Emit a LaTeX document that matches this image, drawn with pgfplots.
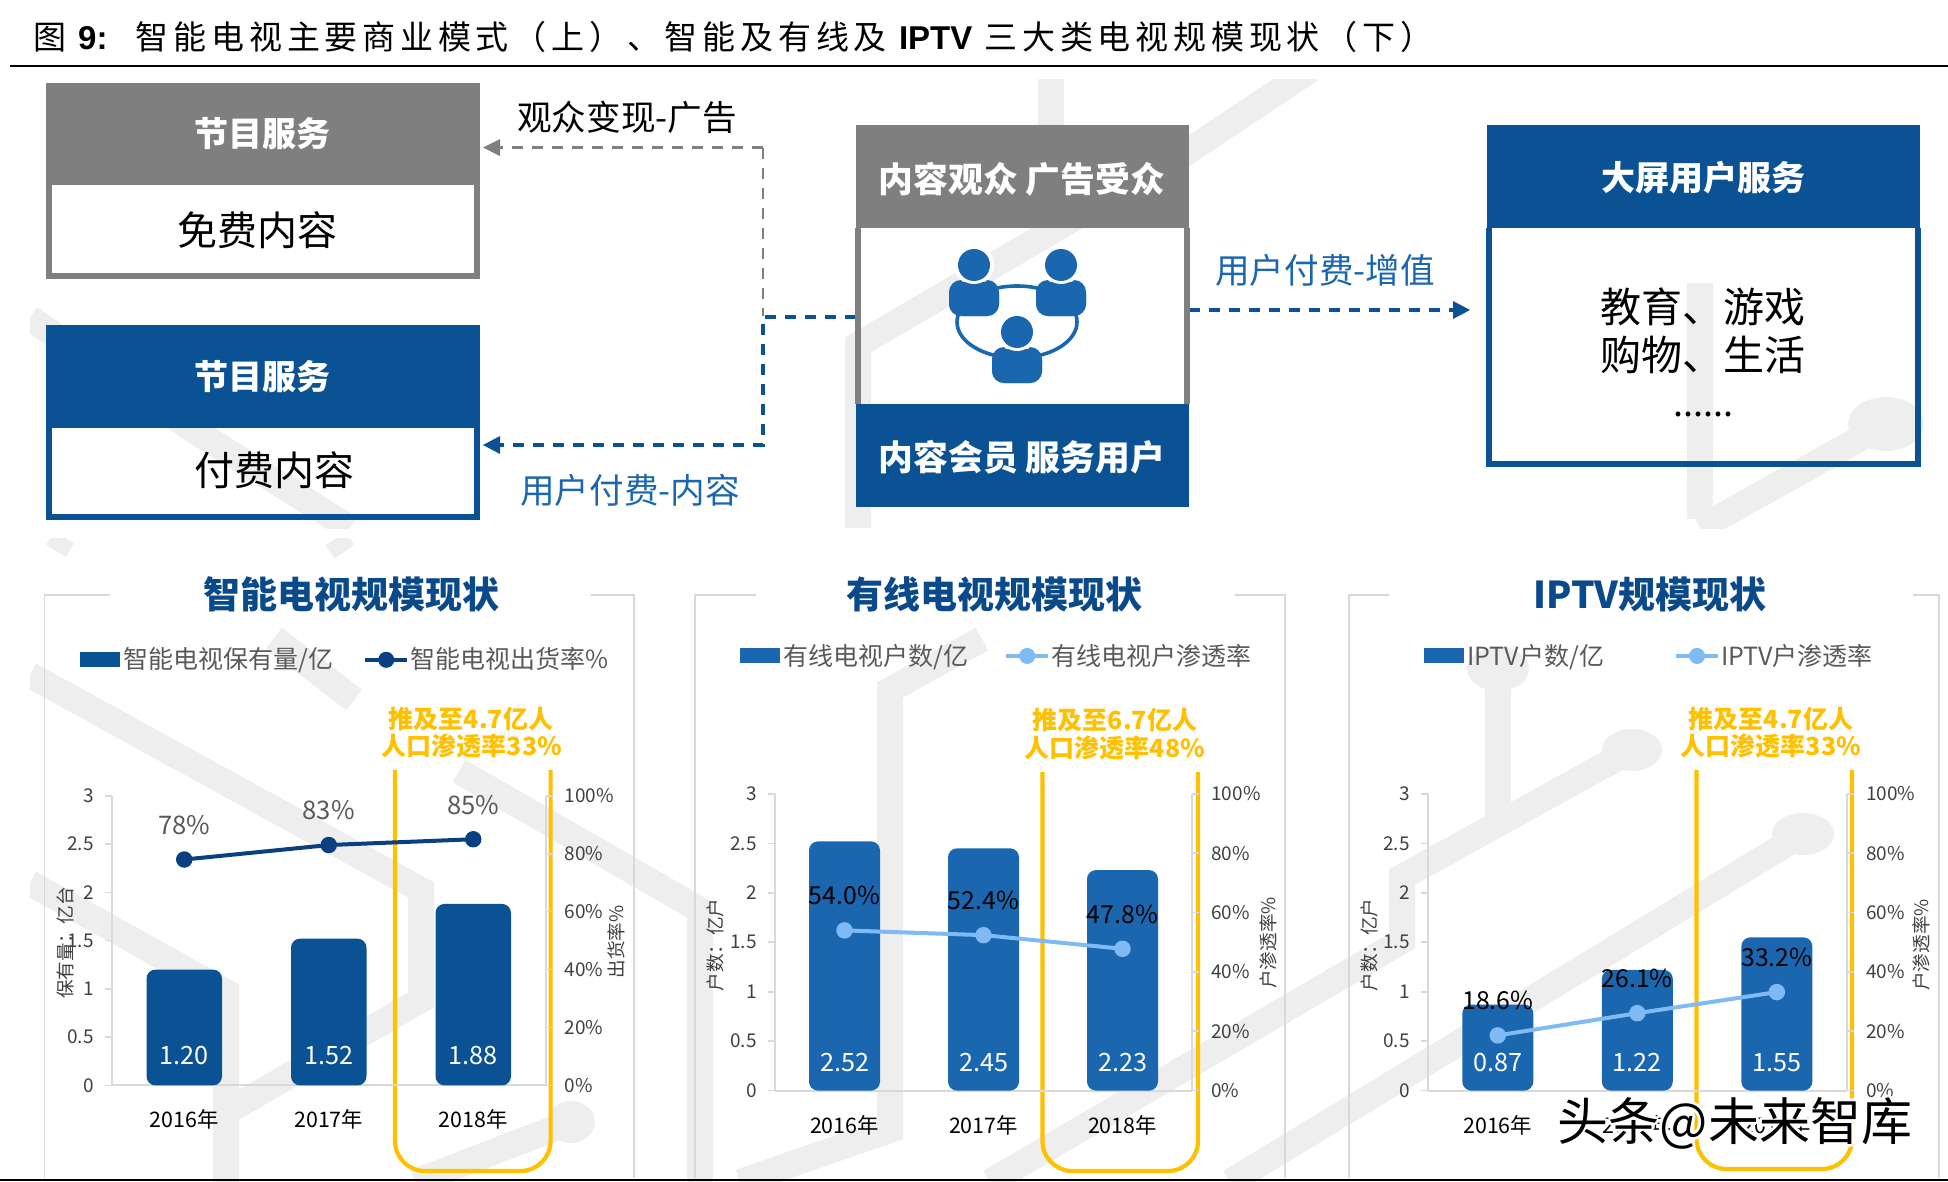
\documentclass[border=0pt]{standalone}
\usepackage{pgfplots}
\pgfplotsset{compat=1.18}
\usepackage{pgfplotstable}
\usepackage{fontspec}
\usetikzlibrary{arrows.meta}
\setmainfont{Noto Sans CJK SC}
\newfontfamily\cjkt[LetterSpace=14.5]{Noto Sans CJK SC}
\newfontfamily\latb[LetterSpace=0]{Liberation Sans}
\newcommand\fs[1]{\fontsize{#1}{#1}\selectfont}
\definecolor{dk}{HTML}{0A5294}
\definecolor{md}{HTML}{1A67B0}
\definecolor{nv}{HTML}{0A3F80}
\definecolor{lb}{HTML}{7FBAF5}
\definecolor{gr}{HTML}{7F7F7F}
\definecolor{wm}{HTML}{EEEEEE}
\definecolor{ax}{HTML}{D9D9D9}
\definecolor{yl}{HTML}{FFC000}
\definecolor{ti}{HTML}{0B4A8A}
\definecolor{tk}{HTML}{404040}
\definecolor{lg}{HTML}{595959}

\pgfplotstableread{
x v
0 1.20
1 1.52
2 1.88
}\sbar
\pgfplotstableread{
x v
0 78
1 83
2 85
}\sline
\pgfplotstableread{
x v
0 2.52
1 2.45
2 2.23
}\cbar
\pgfplotstableread{
x v
0 54.0
1 52.4
2 47.8
}\cline
\pgfplotstableread{
x v
0 0.87
1 1.22
2 1.55
}\ibar
\pgfplotstableread{
x v
0 18.6
1 26.1
2 33.2
}\iline

\pgfplotsset{
  base/.style={scale only axis, anchor=south west, xmin=-0.5, xmax=2.5, clip=false,
    axis line style={draw=ax, line width=1pt},
    /pgf/number format/assume math mode=true},
  leftax/.style={base, ymin=0, ymax=3, axis y line*=left, axis x line*=bottom,
    ytick={0,0.5,1,1.5,2,2.5,3}, yticklabels={0,0.5,1,1.5,2,2.5,3},
    xtick={0,1,2}, xticklabels={2016年,2017年,2018年},
    x tick style={draw=none},
    y tick style={draw=ax, line width=0.8pt},
    tick align=outside, major tick length=3.5pt,
    yticklabel style={font=\fs{9.5}, text=tk, inner sep=0pt, xshift=-5.5pt},
    xticklabel style={font=\fs{10.7}, text=black, inner sep=0pt, yshift=-8.5pt}},
  rightax/.style={base, ymin=0, ymax=100, axis y line*=right, axis x line=none,
    ytick={0,20,40,60,80,100}, yticklabels={0\%,20\%,40\%,60\%,80\%,100\%},
    y tick style={draw=ax, line width=0.8pt},
    tick align=outside, major tick length=3.5pt,
    yticklabel style={font=\fs{9.5}, text=tk, inner sep=0pt, xshift=6pt, anchor=west},
    legend columns=4, legend cell align=left,
    legend style={draw=none, fill=none, anchor=west, inner sep=0pt, outer sep=0pt,
      font=\fs{12.5},
      nodes={inner sep=0pt, outer sep=0pt, text=lg},
      /tikz/every even column/.append style={column sep=15pt}}},
  barkey/.style={legend image code/.code={\fill[##1, draw=none] (0pt,-3.75pt) rectangle (20pt,3.75pt); \path (21.5pt,0pt);}},
  linekey/.style={legend image code/.code={\draw[##1, mark=none] (0pt,0pt) -- (21pt,0pt);
     \fill[##1] (10.5pt,0pt) circle[radius=3pt]; \path (21.5pt,0pt);}},
  thebar/.style={ybar, bar shift=0pt, draw=none, rounded corners=4.5pt},
  vallabel/.style={draw=none, mark=none, point meta=explicit symbolic, nodes near coords,
    every node near coord/.append style={font=\fs{12.6}, text=white, anchor=center, inner sep=0pt}},
  linelabel/.style={point meta=y, mark=*, mark size=3.1pt, line width=2pt,
    nodes near coords={\pgfmathprintnumber[fixed,fixed zerofill,precision=#1]{\pgfplotspointmeta}\%},
    every node near coord/.append style={anchor=center, inner sep=0pt, yshift=17.3pt}},
}

\begin{document}
\begin{tikzpicture}[x=0.5pt,y=-0.5pt,
  t/.style={inner sep=0pt, outer sep=0pt, anchor=center},
  dashg/.style={draw=gr, line width=1.4pt, dash pattern=on 5.5pt off 4.5pt},
  dashb/.style={draw=dk, line width=1.7pt, dash pattern=on 5.5pt off 4.5pt}]
\path[use as bounding box] (0,0) rectangle (1948,1182);

% background traces, upper part
\begin{scope}
\clip (30,80) rectangle (1948,528);
\draw[wm, line width=13pt] (1051,70) -- (1051,140);
\draw[wm, line width=13pt] (1310,70) -- (1187,152) -- (858,345) -- (858,528);
\draw[wm, line width=13pt] (30,318) -- (190,428) -- (350,528);
\draw[wm, line width=13pt] (1700,283) -- (1700,519);
\draw[wm, line width=13pt] (1700,528) -- (1886,424);
\fill[wm] (1886,424) ellipse (38 and 27);
\end{scope}
% background traces, lower part
\begin{scope}
\clip (30,538) rectangle (1948,1182);
\draw[wm, line width=13pt] (30,675) -- (421,890) -- (421,1000) -- (226,1112) -- (226,1182);
\draw[wm, line width=13pt] (30,883) -- (226,992) -- (226,1112);
\draw[wm, line width=13pt] (274,638) -- (354,700);
\draw[wm, line width=13pt] (459,771) -- (700,910) -- (700,1182);
\draw[wm, line width=13pt] (982,639) -- (890,690) -- (890,1130) -- (740,1182);
\draw[wm, line width=13pt] (1632,750) -- (1402,877) -- (1402,941) -- (990,1182);
\draw[wm, line width=13pt] (1803,834) -- (1230,1182);
\draw[wm, line width=13pt] (1498,671) -- (1498,818);
\draw[wm, line width=13pt] (571,1122) -- (415,1182);
\fill[wm] (571,1122) ellipse (24 and 21);
\fill[wm] (1498,669) ellipse (31 and 22);
\fill[wm] (1632,750) ellipse (30 and 21);
\fill[wm] (1803,834) ellipse (31 and 21);
\draw[wm, line width=8pt] (50,538) -- (70,550);
\draw[wm, line width=8pt] (330,552) -- (350,538);
\end{scope}

% caption
\node[t, anchor=west] at (33,37) {\cjkt\fs{16.5}图 {\latb\bfseries 9:} \ 智能电视主要商业模式（上）、智能及有线及 {\latb\bfseries IPTV} 三大类电视规模现状（下）};
\draw[black, line width=1pt] (10,66.5) -- (1948,66.5);
\draw[black, line width=1.2pt] (0,1180) -- (1948,1180);

% diagram: left boxes
\fill[white] (46,185) rectangle (480,279);
\fill[gr] (46,83) rectangle (480,185.5);
\draw[gr, line width=3pt] (49,185) -- (49,276) -- (477,276) -- (477,185);
\node[t, text=white] at (262,134) {\fs{17}\bfseries 节目服务};
\node[t] at (257,230) {\fs{20}免费内容};
\fill[dk] (46,325) rectangle (480,428);
\draw[dk, line width=3pt] (49,428) -- (49,517) -- (477,517) -- (477,428);
\node[t, text=white] at (262,377) {\fs{17}\bfseries 节目服务};
\node[t] at (274,470) {\fs{20}付费内容};

% diagram: arrows
\draw[dashg] (763,147.6) -- (490,147.6);
\fill[gr] (483,147.6) -- (500,139) -- (500,156) -- cycle;
\draw[dashg] (763,147.6) -- (763,316);
\draw[dashb] (856,317) -- (763,317) -- (763,445) -- (490,445);
\fill[dk] (483,445) -- (500,436) -- (500,454) -- cycle;
\draw[dashb] (1189,310) -- (1460,310);
\fill[dk] (1470,310) -- (1453,301) -- (1453,319) -- cycle;
\node[t] at (627,117) {\fs{17.3}观众变现-广告};
\node[t, text=md] at (630,490) {\fs{17.3}用户付费-内容};
\node[t, text=md] at (1325,270) {\fs{17.3}用户付费-增值};

% diagram: centre box
\fill[gr] (856,125) rectangle (1189,228);
\draw[gr, line width=3pt] (858,228) -- (858,404);
\draw[gr, line width=3pt] (1187,228) -- (1187,404);
\fill[dk] (856,404) rectangle (1189,507);
\node[t, text=white] at (1022,179) {\fs{17.4}\bfseries 内容观众 广告受众};
\node[t, text=white] at (1022,457) {\fs{17.4}\bfseries 内容会员 服务用户};
\draw[md, line width=1.8pt] (1017,322) ellipse (60 and 36);
\foreach \px/\py in {974/265, 1061/265, 1017/332} {
  \fill[md, rounded corners=6pt] (\px-25,\py+51) rectangle (\px+25,\py+15);
  \fill[white] (\px,\py) circle (20);
  \fill[md, rounded corners=6pt] (\px-25,\py+51) rectangle (\px+25,\py+17);
  \fill[white] (\px,\py) circle (19);
  \fill[md] (\px,\py) circle (16);
}

% diagram: right box
\fill[dk] (1487,125) rectangle (1920,228);
\draw[dk, line width=3pt] (1489,228) -- (1489,464) -- (1918,464) -- (1918,228);
\node[t, text=white] at (1703,178) {\fs{17}\bfseries 大屏用户服务};
\node[t] at (1703,307) {\fs{20.5}教育、游戏};
\node[t] at (1703,355) {\fs{20.5}购物、生活};
\node[t] at (1703,414) {\fs{18}......};

% panels
\draw[ax, line width=0.8pt] (110,595) -- (44.5,595) -- (44.5,1178);
\draw[ax, line width=0.8pt] (591,595) -- (634,595) -- (634,1178);
\draw[ax, line width=0.8pt] (755.5,595) -- (695,595) -- (695,1178);
\draw[ax, line width=0.8pt] (1235,595) -- (1285,595) -- (1285,1178);
\draw[ax, line width=0.8pt] (1389,595) -- (1349,595) -- (1349,1178);
\draw[ax, line width=0.8pt] (1913,595) -- (1939,595) -- (1939,1178);
\node[t, text=ti] at (351,594) {\fs{18.5}\bfseries 智能电视规模现状};
\node[t, text=ti] at (994,594) {\fs{18.5}\bfseries 有线电视规模现状};
\node[t, text=ti] at (1650,594) {\fs{18.5}\bfseries IPTV规模现状};

% yellow frames
\draw[yl, line width=2.1pt, rounded corners=15pt] (395,770) -- (395,1171) -- (550.6,1171) -- (550.6,770);
\draw[yl, line width=2.1pt, rounded corners=15pt] (1042.4,772) -- (1042.4,1171) -- (1198,1171) -- (1198,772);
\draw[yl, line width=2.1pt, rounded corners=15pt] (1696.5,770) -- (1696.5,1169) -- (1852,1169) -- (1852,770);
\node[t, text=yl] at (471,719) {\fs{12.5}\bfseries 推及至4.7亿人};
\node[t, text=yl] at (472,746.5) {\fs{12.5}\bfseries 人口渗透率33\%};
\node[t, text=yl] at (1115,720) {\fs{12.5}\bfseries 推及至6.7亿人};
\node[t, text=yl] at (1115,748.5) {\fs{12.5}\bfseries 人口渗透率48\%};
\node[t, text=yl] at (1771,719) {\fs{12.5}\bfseries 推及至4.7亿人};
\node[t, text=yl] at (1771,746.5) {\fs{12.5}\bfseries 人口渗透率33\%};

% chart 1
\begin{axis}[leftax, at={(56pt,-542.7pt)}, width=216.75pt, height=144.8pt]
\addplot[thebar, bar width=37.75pt, fill=dk] table[x=x,y=v] {\sbar};
\addplot[vallabel] coordinates {(0,0.305)[1.20] (1,0.305)[1.52] (2,0.305)[1.88]};
\end{axis}
\begin{axis}[rightax, at={(56pt,-542.7pt)}, width=216.75pt, height=144.8pt,
  legend style={at={(-0.0738,1.4696)}}]
\addlegendimage{barkey, fill=dk}
\addlegendentry{智能电视保有量/亿}
\addlegendimage{linekey, draw=nv, fill=nv, line width=2pt}
\addlegendentry{智能电视出货率\%}
\addplot[linelabel=0, color=nv, forget plot, every node near coord/.append style={font=\fs{12.8}, text=lg}] table[x=x,y=v] {\sline};
\end{axis}
\node[t, rotate=90, text=tk] at (65,943) {\fs{9.3}保有量：亿台};
\node[t, rotate=90, text=tk] at (616,942) {\fs{9.3}出货率\%};

% chart 2
\begin{axis}[leftax, at={(387.5pt,-545.3pt)}, width=208.5pt, height=148.35pt]
\addplot[thebar, bar width=35.5pt, fill=md] table[x=x,y=v] {\cbar};
\addplot[vallabel] coordinates {(0,0.285)[2.52] (1,0.285)[2.45] (2,0.285)[2.23]};
\end{axis}
\begin{axis}[rightax, at={(387.5pt,-545.3pt)}, width=208.5pt, height=148.35pt,
  legend style={at={(-0.0839,1.465)}, /tikz/every even column/.append style={column sep=18pt}}]
\addlegendimage{barkey, fill=md}
\addlegendentry{有线电视户数/亿}
\addlegendimage{linekey, draw=lb, fill=lb, line width=2pt}
\addlegendentry{有线电视户渗透率}
\addplot[linelabel=1, color=lb, forget plot, every node near coord/.append style={font=\fs{12.4}, text=black}] table[x=x,y=v] {\cline};
\end{axis}
\node[t, rotate=90, text=tk] at (715,945) {\fs{9.3}户数：亿户};
\node[t, rotate=90, text=tk] at (1268,943) {\fs{9.3}户渗透率\%};

% chart 3
\begin{axis}[leftax, at={(714pt,-545.3pt)}, width=209.3pt, height=148.35pt]
\addplot[thebar, bar width=35.5pt, fill=md] table[x=x,y=v] {\ibar};
\addplot[vallabel] coordinates {(0,0.285)[0.87] (1,0.285)[1.22] (2,0.285)[1.55]};
\end{axis}
\begin{axis}[rightax, at={(714pt,-545.3pt)}, width=209.3pt, height=148.35pt,
  legend style={at={(-0.0096,1.465)}, /tikz/every even column/.append style={column sep=35pt}}]
\addlegendimage{barkey, fill=md}
\addlegendentry{IPTV户数/亿}
\addlegendimage{linekey, draw=lb, fill=lb, line width=2pt}
\addlegendentry{IPTV户渗透率}
\addplot[linelabel=1, color=lb, forget plot, every node near coord/.append style={font=\fs{12.4}, text=black}] table[x=x,y=v] {\iline};
\end{axis}
\node[t, rotate=90, text=tk] at (1369,945) {\fs{9.3}户数：亿户};
\node[t, rotate=90, text=tk] at (1921,945) {\fs{9.3}户渗透率\%};

% source mark
\foreach \dx/\dy in {-3/0,3/0,0/-3,0/3,-2/-2,2/-2,-2/2,2/2}
  \node[t, text=white] at (1735+\dx,1123+\dy) {\fs{25.5}头条@未来智库};
\node[t, text=black] at (1735,1123) {\fs{25.5}头条@未来智库};
\end{tikzpicture}
\end{document}
